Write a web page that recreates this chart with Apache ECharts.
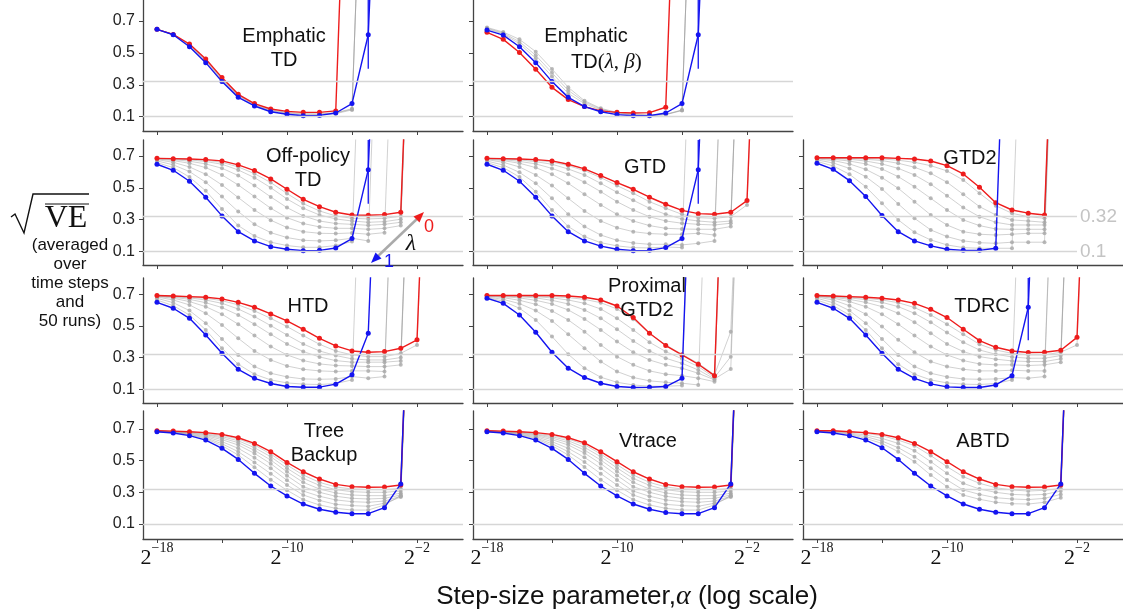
<!DOCTYPE html>
<html>
<head>
<meta charset="utf-8">
<script src="https://cdn.jsdelivr.net/npm/echarts@6/dist/echarts.min.js"></script>
<style>
  html, body { margin: 0; padding: 0; background: #fff; }
  #chart { width: 1123px; height: 611px; }
</style>
</head>
<body>
<div id="chart"></div>
<script>
// step sizes are 2^k, k below
const stepExp = [-18, -17, -16, -15, -14, -13, -12, -11, -10, -9, -8, -7, -6, -5, -4, -3, -2, -1];
const xTicks = [-18, -14, -10, -6, -2];
const xLabelTicks = [-18, -10, -2];
const yTicks = [0.1, 0.3, 0.5, 0.7];
const refLevels = [0.32, 0.1];
// 3 = diverged (off the top of the panel)

// Emphatic TD
const etdRed = [.648, .616, .556, .462, .345, .240, .182, .148, .133, .127, .127, .136, 3];
const etdBlue = [.648, .614, .539, .439, .320, .221, .167, .131, .115, .106, .108, .123, .182, .614, 3];
const etdGrey = [
  [.649, .617, .552, .456, .338, .235, .178, .143, .127, .119, .117, .125, .150, 3],
  [.648, .616, .550, .452, .333, .232, .175, .140, .123, .115, .115, .123, .146, 3],
  [.648, .615, .545, .446, .327, .227, .171, .136, .119, .110, .110, .119, .142, 3]
];
const etdErr = [[-5, .40, .85]];

// Emphatic TD(lambda, beta)
const etdbRed = [.629, .585, .503, .397, .284, .207, .163, .136, .127, .123, .125, .159, 3];
const etdbBlue = [.643, .612, .539, .439, .320, .221, .163, .131, .113, .106, .106, .123, .182, .614, 3];
const etdbGrey = [
  [.660, .631, .585, .508, .399, .284, .200, .152, .127, .117, .110, .115, .142, 3],
  [.656, .625, .570, .485, .375, .265, .192, .148, .125, .113, .108, .113, .140, 3],
  [.652, .619, .558, .466, .352, .246, .182, .142, .121, .110, .106, .113, .138, 3]
];
const etdbErr = [[-5, .40, .85]];

// Off-policy TD
const otdRed = [.685, .683, .681, .677, .669, .644, .608, .556, .491, .428, .382, .347, .330, .328, .332, .347, 3];
const otdBlue = [.648, .610, .541, .441, .324, .225, .167, .131, .115, .106, .108, .123, .182, .614, 3];
const otdGrey = [
  [.685, .683, .679, .673, .660, .631, .589, .533, .464, .401, .355, .324, .309, .305, .309, .322, 3],
  [.683, .681, .675, .665, .648, .612, .564, .501, .430, .372, .330, .305, .292, .284, .288, .303, 3],
  [.683, .677, .667, .650, .623, .577, .514, .443, .376, .324, .292, .276, .271, .265, .271, .284, 3],
  [.681, .671, .654, .627, .581, .518, .445, .372, .313, .276, .255, .246, .246, .240, .246, .263, 3],
  [.677, .660, .631, .585, .518, .439, .361, .297, .251, .225, .215, .213, .217, .209, .219, 3],
  [.669, .644, .602, .535, .445, .351, .271, .219, .188, .171, .167, .171, .184, .167, 3],
  [.658, .627, .568, .481, .368, .263, .198, .159, .138, .127, .127, .138, .163, 3]
];
const otdErr = [[-5, .40, .82]];

// GTD
const gtdRed = [.685, .683, .681, .677, .669, .648, .619, .577, .533, .491, .441, .397, .359, .338, .334, .347, .420, 3];
const gtdBlue = [.648, .610, .541, .441, .324, .225, .167, .134, .115, .106, .108, .125, .182, .614, 3];
const gtdGrey = [
  [.685, .683, .679, .673, .662, .639, .608, .564, .514, .466, .413, .372, .334, .313, .309, .319, .393, 3],
  [.683, .681, .675, .664, .648, .618, .581, .528, .472, .422, .372, .334, .305, .292, .284, .292, 3],
  [.683, .677, .666, .650, .622, .585, .535, .476, .413, .361, .319, .292, .278, .271, .267, .278, 3],
  [.681, .671, .654, .627, .585, .528, .459, .393, .334, .292, .263, .246, .242, .240, .240, .257, 3],
  [.677, .660, .631, .581, .514, .434, .355, .292, .250, .225, .213, .209, .209, .215, .204, 3],
  [.668, .643, .597, .528, .434, .334, .257, .204, .171, .154, .146, .146, .142, .152, .167, 3],
  [.658, .627, .568, .476, .361, .257, .194, .156, .136, .125, .123, .129, .125, 3]
];
const gtdErr = [[-5, .40, .82]];

// GTD2
const gtd2Red = [.689, .689, .689, .689, .689, .685, .681, .668, .639, .587, .504, .407, .361, .341, .330, 3];
const gtd2Blue = [.654, .616, .545, .445, .326, .225, .167, .136, .115, .108, .108, .121, 3];
const gtd2Grey = [
  [.689, .689, .687, .685, .681, .673, .660, .639, .606, .549, .466, .388, .340, .319, .309, 3],
  [.689, .687, .685, .679, .671, .654, .629, .591, .535, .459, .382, .330, .299, .292, .284, 3],
  [.687, .685, .679, .668, .650, .622, .581, .522, .451, .376, .319, .284, .267, .267, .267, 3],
  [.685, .679, .668, .650, .618, .570, .507, .434, .361, .299, .263, .242, .240, .240, .240, 3],
  [.681, .671, .650, .616, .564, .497, .413, .330, .267, .225, .209, .204, .209, .215, .215, 3],
  [.675, .656, .622, .570, .493, .399, .309, .236, .194, .167, .156, .152, .159, .159, .159, 3],
  [.666, .637, .585, .507, .403, .299, .221, .173, .142, .125, .121, .121, .121, 3]
];

// HTD
const htdRed = [.692, .689, .685, .681, .671, .649, .618, .576, .532, .479, .422, .374, .342, .334, .338, .359, .412, 3];
const htdBlue = [.649, .612, .548, .443, .327, .226, .169, .136, .117, .113, .113, .132, .191, .454, 3];
const htdGrey = [
  [.692, .687, .681, .675, .660, .633, .595, .548, .496, .439, .384, .342, .317, .306, .306, .327, .380, 3],
  [.689, .685, .677, .664, .643, .607, .559, .502, .443, .386, .342, .313, .292, .285, .285, .300, 3],
  [.689, .681, .668, .647, .616, .569, .511, .447, .386, .338, .304, .281, .271, .271, .271, .279, 3],
  [.687, .675, .654, .622, .574, .511, .439, .370, .317, .281, .260, .250, .247, .243, .243, .254, 3],
  [.683, .664, .633, .580, .506, .422, .342, .285, .247, .226, .216, .212, .216, .216, .212, 3],
  [.675, .647, .597, .517, .418, .317, .243, .201, .178, .165, .163, .165, .180, .170, .180, 3],
  [.664, .628, .569, .475, .359, .258, .195, .159, .140, .132, .130, .136, .159, 3]
];

// Proximal GTD2
const pgtd2Red = [.692, .692, .692, .692, .692, .689, .681, .664, .626, .553, .454, .376, .317, .258, .186, 3];
const pgtd2Blue = [.675, .643, .569, .460, .334, .233, .174, .138, .117, .111, .113, .117, .169, 3];
const pgtd2Grey = [
  [.692, .692, .692, .689, .685, .679, .668, .647, .607, .542, .454, .380, .321, .264, .191, .464, 3],
  [.692, .692, .689, .685, .677, .664, .643, .607, .548, .475, .397, .338, .292, .243, .174, .306, 3],
  [.692, .689, .685, .677, .662, .639, .601, .548, .479, .405, .342, .296, .264, .222, .165, .228, 3],
  [.689, .685, .677, .662, .639, .601, .544, .475, .401, .334, .285, .254, .233, .201, .159, 3],
  [.687, .679, .662, .637, .595, .538, .464, .380, .306, .254, .216, .195, .186, .170, .148, 3],
  [.683, .668, .641, .597, .532, .447, .359, .275, .212, .174, .153, .144, .138, .127, 3],
  [.679, .656, .612, .538, .433, .321, .233, .176, .144, .127, .119, .119, .123, 3]
];

// TDRC
const tdrcRed = [.692, .689, .685, .681, .675, .664, .643, .605, .553, .479, .407, .365, .342, .332, .334, .346, .428, 3];
const tdrcBlue = [.649, .612, .548, .443, .327, .226, .169, .134, .115, .111, .111, .127, .186, .618, 3];
const tdrcGrey = [
  [.692, .687, .681, .675, .664, .647, .616, .569, .511, .447, .384, .348, .327, .317, .317, .334, .380, 3],
  [.689, .685, .677, .666, .649, .622, .580, .523, .458, .397, .348, .321, .304, .296, .296, .313, 3],
  [.689, .681, .668, .649, .622, .580, .523, .454, .386, .338, .306, .290, .279, .275, .275, .292, 3],
  [.687, .675, .654, .622, .574, .511, .439, .370, .317, .281, .260, .254, .254, .250, .254, .271, 3],
  [.683, .664, .628, .574, .496, .412, .334, .275, .243, .226, .216, .216, .220, .216, .216, 3],
  [.675, .647, .597, .517, .418, .317, .243, .201, .178, .165, .163, .165, .173, .170, .180, 3],
  [.664, .628, .569, .475, .359, .258, .195, .159, .140, .132, .130, .136, .159, 3]
];
const tdrcErr = [[-5, .41, .81]];

// Tree Backup
const tbRed = [.689, .687, .683, .677, .666, .645, .609, .557, .489, .430, .384, .350, .336, .332, .334, .346, 3];
const tbBlue = [.683, .675, .658, .630, .578, .508, .420, .340, .277, .226, .193, .174, .165, .165, .203, .353, 3];
const tbGrey = [
  [.689, .685, .681, .673, .660, .637, .599, .542, .473, .409, .363, .334, .321, .317, .317, .325, 3],
  [.687, .683, .679, .668, .652, .626, .582, .525, .452, .388, .344, .317, .304, .300, .300, .308, 3],
  [.687, .683, .675, .664, .643, .614, .565, .504, .430, .363, .321, .296, .283, .279, .279, .294, 3],
  [.687, .681, .673, .658, .633, .599, .546, .481, .405, .336, .300, .275, .262, .258, .262, .283, 3],
  [.685, .679, .668, .652, .620, .578, .519, .452, .376, .308, .275, .252, .241, .237, .245, .275, 3],
  [.685, .679, .666, .645, .607, .557, .489, .418, .346, .283, .249, .224, .216, .212, .231, .270, 3],
  [.683, .677, .662, .639, .595, .536, .458, .380, .313, .254, .220, .199, .188, .188, .220, .279, 3]
];

// Vtrace
const vtRed = [.689, .687, .683, .677, .666, .645, .613, .557, .494, .430, .384, .350, .336, .332, .334, .346, 3];
const vtBlue = [.683, .675, .658, .630, .578, .508, .420, .340, .277, .226, .193, .172, .165, .165, .203, .353, 3];
const vtGrey = [
  [.689, .685, .681, .673, .660, .637, .601, .542, .475, .409, .363, .334, .321, .317, .317, .325, 3],
  [.687, .683, .679, .668, .652, .626, .584, .525, .454, .388, .344, .317, .304, .300, .300, .308, 3],
  [.687, .683, .675, .664, .643, .614, .567, .504, .432, .363, .321, .296, .283, .279, .279, .294, 3],
  [.687, .681, .673, .658, .633, .599, .548, .481, .407, .336, .300, .275, .262, .258, .262, .283, 3],
  [.685, .679, .668, .652, .620, .578, .521, .452, .378, .308, .275, .252, .241, .237, .245, .275, 3],
  [.685, .679, .666, .645, .607, .557, .491, .418, .346, .283, .249, .224, .216, .212, .231, .270, 3],
  [.683, .677, .662, .639, .595, .536, .460, .380, .313, .254, .220, .199, .188, .188, .220, .279, 3]
];

// ABTD
const abtdRed = [.689, .689, .683, .677, .666, .645, .609, .557, .494, .430, .384, .350, .336, .332, .334, .346, 3];
const abtdBlue = [.683, .675, .658, .630, .582, .508, .420, .340, .277, .226, .193, .174, .165, .165, .203, .353, 3];
const abtdGrey = [
  [.689, .687, .681, .673, .658, .630, .595, .532, .462, .399, .357, .329, .315, .308, .313, .325, 3],
  [.687, .683, .675, .662, .641, .609, .563, .494, .420, .357, .321, .300, .287, .283, .287, .308, 3],
  [.687, .681, .670, .652, .624, .582, .525, .452, .378, .315, .287, .266, .258, .254, .262, .287, 3],
  [.685, .679, .666, .641, .609, .557, .494, .409, .336, .283, .256, .237, .228, .226, .237, .266, 3]
];

const panels = [
  { row: 0, col: 0, red: etdRed, blue: etdBlue, grey: etdGrey, err: etdErr },
  { row: 0, col: 1, red: etdbRed, blue: etdbBlue, grey: etdbGrey, err: etdbErr },
  { row: 1, col: 0, red: otdRed, blue: otdBlue, grey: otdGrey, err: otdErr },
  { row: 1, col: 1, red: gtdRed, blue: gtdBlue, grey: gtdGrey, err: gtdErr },
  { row: 1, col: 2, red: gtd2Red, blue: gtd2Blue, grey: gtd2Grey, err: [], refLabels: true },
  { row: 2, col: 0, red: htdRed, blue: htdBlue, grey: htdGrey, err: [] },
  { row: 2, col: 1, red: pgtd2Red, blue: pgtd2Blue, grey: pgtd2Grey, err: [] },
  { row: 2, col: 2, red: tdrcRed, blue: tdrcBlue, grey: tdrcGrey, err: tdrcErr },
  { row: 3, col: 0, red: tbRed, blue: tbBlue, grey: tbGrey, err: [] },
  { row: 3, col: 1, red: vtRed, blue: vtBlue, grey: vtGrey, err: [] },
  { row: 3, col: 2, red: abtdRed, blue: abtdBlue, grey: abtdGrey, err: [] }
];

// layout
const colLeft = [143, 473, 803];
const gridW = 320;
const rows = [
  { top: 0, h: 131, min: 0.010, max: 0.832 },
  { top: 140, h: 125, min: 0.016, max: 0.800 },
  { top: 278, h: 125, min: 0.013, max: 0.803 },
  { top: 411, h: 128, min: 0.005, max: 0.814 }
];
const xMin = -18.86, xMax = 0.83;

const RED = '#ee1c1c', BLUE = '#1414f0';
const SANS = "'Liberation Sans', Arial, Helvetica, sans-serif";
const SERIF = "'Liberation Serif', 'DejaVu Serif', serif";
const axisColor = '#444';

const toPts = vals => vals.map((v, i) => [stepExp[i], v]);

const grid = [], xAxis = [], yAxis = [], series = [];

panels.forEach((p, i) => {
  const r = rows[p.row];
  grid.push({ left: colLeft[p.col], top: r.top, width: gridW, height: r.h });
  xAxis.push({
    type: 'value', gridIndex: i, min: xMin, max: xMax,
    axisLine: { show: true, onZero: false, lineStyle: { color: axisColor, width: 1.3 } },
    axisTick: { show: true, customValues: xTicks, length: 4, lineStyle: { color: axisColor } },
    axisLabel: {
      show: p.row === 3, customValues: xLabelTicks, margin: 2,
      formatter: v => '{b|2}{s|\u2212' + Math.abs(v) + '}',
      rich: {
        b: { fontFamily: SERIF, fontSize: 22, color: '#111', lineHeight: 34 },
        s: { fontFamily: SERIF, fontSize: 14, color: '#111', lineHeight: 14, verticalAlign: 'top' }
      }
    },
    splitLine: { show: false }
  });
  yAxis.push({
    type: 'value', gridIndex: i, min: r.min, max: r.max,
    axisLine: { show: true, onZero: false, lineStyle: { color: axisColor, width: 1.3 } },
    axisTick: { show: true, customValues: yTicks, length: 4, lineStyle: { color: axisColor } },
    axisLabel: { show: p.col === 0, customValues: yTicks, margin: 8, fontFamily: SANS, fontSize: 16, color: '#222' },
    splitLine: { show: false }
  });

  // reference levels
  const mlData = p.refLabels
    ? refLevels.map(v => [
        { coord: [xMin, v] },
        { coord: [-2, v], label: { show: true, position: 'end', formatter: String(v), color: '#c4c4c4', fontFamily: SANS, fontSize: 19, distance: 3 } }
      ])
    : refLevels.map(v => ({ yAxis: v }));
  series.push({
    type: 'line', xAxisIndex: i, yAxisIndex: i, data: [], silent: true, z: 1,
    markLine: {
      silent: true, symbol: ['none', 'none'], animation: false,
      label: { show: false },
      lineStyle: { color: '#d6d6d6', width: 1.3, type: 'solid' },
      emphasis: { disabled: true },
      data: mlData
    }
  });

  p.grey.forEach(g => {
    series.push({
      type: 'line', xAxisIndex: i, yAxisIndex: i, data: toPts(g), z: 2,
      symbol: 'circle', symbolSize: 4, clip: true, silent: true, animation: false,
      lineStyle: { color: '#9a9a9a', width: 1, opacity: 0.45 },
      itemStyle: { color: '#a8a8a8', opacity: 0.8 },
      emphasis: { disabled: true }
    });
  });

  [[p.red, RED, 3], [p.blue, BLUE, 4]].forEach(([vals, c, z]) => {
    series.push({
      type: 'line', xAxisIndex: i, yAxisIndex: i, data: toPts(vals), z,
      symbol: 'circle', symbolSize: 5, clip: true, silent: true, animation: false,
      lineStyle: { color: c, width: 1.4 },
      itemStyle: { color: c },
      emphasis: { disabled: true }
    });
  });

  if (p.err.length) {
    series.push({
      type: 'custom', xAxisIndex: i, yAxisIndex: i, data: p.err, z: 4, clip: true, silent: true, animation: false,
      renderItem: (params, api) => {
        const a = api.coord([api.value(0), api.value(1)]);
        const b = api.coord([api.value(0), api.value(2)]);
        return { type: 'line', shape: { x1: a[0], y1: a[1], x2: b[0], y2: b[1] }, style: { stroke: BLUE, lineWidth: 1.3 } };
      }
    });
  }
});

// panel titles and annotations
const txt = (x, y, text, extra) => ({
  type: 'text', x, y, z: 100,
  style: Object.assign({ text, fill: '#111', fontFamily: SANS, fontSize: 20, align: 'center', verticalAlign: 'middle', lineHeight: 24 }, extra || {})
});

const graphic = [
  txt(284, 48, 'Emphatic\nTD'),
  txt(586, 36, 'Emphatic'),
  txt(571, 62, '{a|TD}{m|(}{g|λ}{m|, }{g|β}{m|)}', {
    align: 'left',
    rich: {
      a: { fontFamily: SANS, fontSize: 20, fill: '#111' },
      m: { fontFamily: SERIF, fontSize: 21, fill: '#111' },
      g: { fontFamily: SERIF, fontSize: 21, fontStyle: 'italic', fill: '#111' }
    }
  }),
  txt(308, 168, 'Off-policy\nTD'),
  txt(645, 167, 'GTD'),
  txt(970, 158, 'GTD2'),
  txt(308, 306, 'HTD'),
  txt(647, 298, 'Proximal\nGTD2'),
  txt(982, 306, 'TDRC'),
  txt(324, 443, 'Tree\nBackup'),
  txt(648, 441, 'Vtrace'),
  txt(983, 441, 'ABTD'),

  // lambda arrow in Off-policy TD
  { type: 'line', z: 90, shape: { x1: 377, y1: 257, x2: 418, y2: 218 }, style: { stroke: '#aaaaaa', lineWidth: 2.5 } },
  { type: 'polygon', z: 91, shape: { points: [[424, 212], [419.5, 222.5], [413.5, 216.5]] }, style: { fill: RED } },
  { type: 'polygon', z: 91, shape: { points: [[371, 263], [381.5, 258.5], [375.5, 252.5]] }, style: { fill: BLUE } },
  txt(429, 227, '0', { fill: RED, fontSize: 18 }),
  txt(389, 262, '1', { fill: BLUE, fontSize: 18 }),
  txt(411, 244, 'λ', { fontFamily: SERIF, fontStyle: 'italic', fontSize: 24 }),

  // y axis name
  { type: 'polyline', z: 90, shape: { points: [[11, 217], [15, 214], [24, 233], [33, 194], [89, 194]] }, style: { stroke: '#111', lineWidth: 1.4, fill: null } },
  { type: 'line', z: 90, shape: { x1: 45, y1: 204, x2: 89, y2: 204 }, style: { stroke: '#111', lineWidth: 1.2 } },
  txt(66, 219, 'VE', { fontFamily: SERIF, fontSize: 32 }),
  txt(70, 283, '(averaged\nover\ntime steps\nand\n50 runs)', { fontSize: 17, lineHeight: 19 }),

  // x axis name
  txt(627, 597, '{a|Step-size parameter,}{g|α}{a| (log scale)}', {
    rich: {
      a: { fontFamily: SANS, fontSize: 26, fill: '#111' },
      g: { fontFamily: SERIF, fontSize: 28, fontStyle: 'italic', fill: '#111' }
    }
  })
];

const chart = echarts.init(document.getElementById('chart'));
chart.setOption({
  animation: false,
  backgroundColor: '#fff',
  grid, xAxis, yAxis, series, graphic
});
</script>
</body>
</html>
